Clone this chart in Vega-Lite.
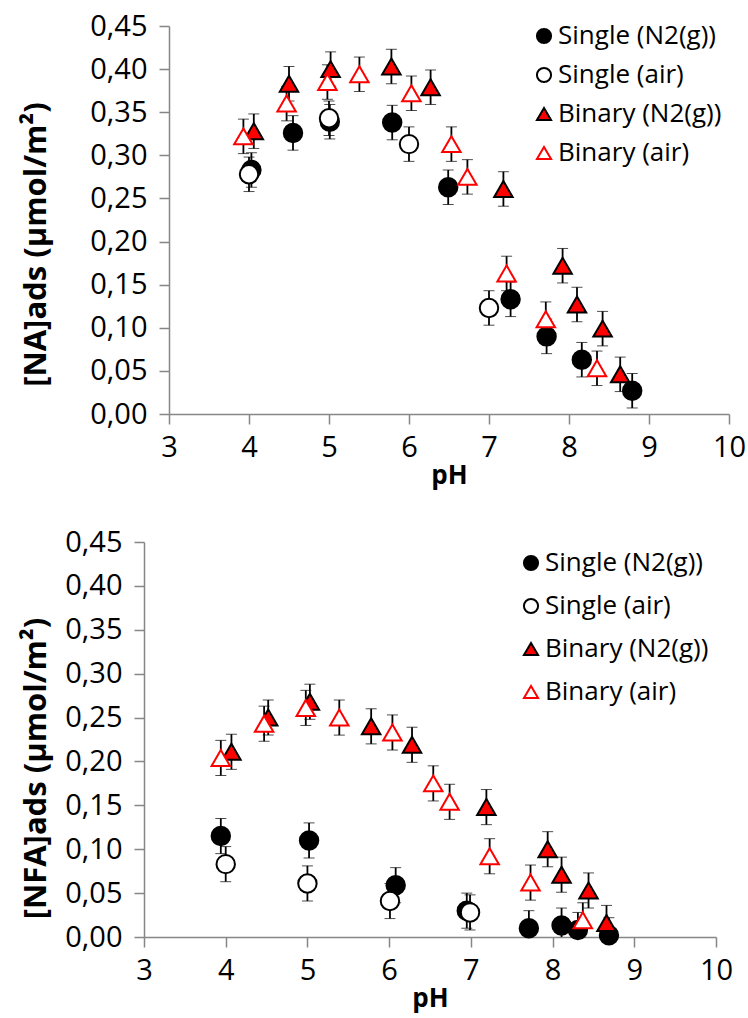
{
  "$schema": "https://vega.github.io/schema/vega-lite/v6.json",
  "padding": {"left": 18, "top": 12, "right": 0, "bottom": 8},
  "spacing": 40,
  "datasets": {
    "NA": [
      {"pH": 4.03, "value": 0.283, "err": 0.02, "series": "Single (N2(g))"},
      {"pH": 4.55, "value": 0.326, "err": 0.02, "series": "Single (N2(g))"},
      {"pH": 5.01, "value": 0.339, "err": 0.02, "series": "Single (N2(g))"},
      {"pH": 5.79, "value": 0.338, "err": 0.02, "series": "Single (N2(g))"},
      {"pH": 6.49, "value": 0.263, "err": 0.02, "series": "Single (N2(g))"},
      {"pH": 7.27, "value": 0.133, "err": 0.02, "series": "Single (N2(g))"},
      {"pH": 7.72, "value": 0.090, "err": 0.02, "series": "Single (N2(g))"},
      {"pH": 8.16, "value": 0.063, "err": 0.02, "series": "Single (N2(g))"},
      {"pH": 8.79, "value": 0.027, "err": 0.02, "series": "Single (N2(g))"},
      {"pH": 4.00, "value": 0.278, "err": 0.02, "series": "Single (air)"},
      {"pH": 5.00, "value": 0.343, "err": 0.02, "series": "Single (air)"},
      {"pH": 6.00, "value": 0.313, "err": 0.02, "series": "Single (air)"},
      {"pH": 7.00, "value": 0.123, "err": 0.02, "series": "Single (air)"},
      {"pH": 4.06, "value": 0.328, "err": 0.02, "series": "Binary (N2(g))"},
      {"pH": 4.50, "value": 0.383, "err": 0.02, "series": "Binary (N2(g))"},
      {"pH": 5.02, "value": 0.400, "err": 0.02, "series": "Binary (N2(g))"},
      {"pH": 5.78, "value": 0.403, "err": 0.02, "series": "Binary (N2(g))"},
      {"pH": 6.27, "value": 0.379, "err": 0.02, "series": "Binary (N2(g))"},
      {"pH": 7.18, "value": 0.261, "err": 0.02, "series": "Binary (N2(g))"},
      {"pH": 7.92, "value": 0.172, "err": 0.02, "series": "Binary (N2(g))"},
      {"pH": 8.10, "value": 0.127, "err": 0.02, "series": "Binary (N2(g))"},
      {"pH": 8.42, "value": 0.099, "err": 0.02, "series": "Binary (N2(g))"},
      {"pH": 8.64, "value": 0.046, "err": 0.02, "series": "Binary (N2(g))"},
      {"pH": 3.93, "value": 0.322, "err": 0.02, "series": "Binary (air)"},
      {"pH": 4.47, "value": 0.360, "err": 0.02, "series": "Binary (air)"},
      {"pH": 4.98, "value": 0.385, "err": 0.02, "series": "Binary (air)"},
      {"pH": 5.38, "value": 0.394, "err": 0.02, "series": "Binary (air)"},
      {"pH": 6.03, "value": 0.372, "err": 0.02, "series": "Binary (air)"},
      {"pH": 6.53, "value": 0.313, "err": 0.02, "series": "Binary (air)"},
      {"pH": 6.73, "value": 0.275, "err": 0.02, "series": "Binary (air)"},
      {"pH": 7.22, "value": 0.163, "err": 0.02, "series": "Binary (air)"},
      {"pH": 7.71, "value": 0.110, "err": 0.02, "series": "Binary (air)"},
      {"pH": 8.35, "value": 0.053, "err": 0.02, "series": "Binary (air)"}
    ],
    "NFA": [
      {"pH": 3.94, "value": 0.115, "err": 0.02, "series": "Single (N2(g))"},
      {"pH": 5.02, "value": 0.110, "err": 0.02, "series": "Single (N2(g))"},
      {"pH": 6.08, "value": 0.059, "err": 0.02, "series": "Single (N2(g))"},
      {"pH": 6.95, "value": 0.030, "err": 0.02, "series": "Single (N2(g))"},
      {"pH": 7.71, "value": 0.010, "err": 0.02, "series": "Single (N2(g))"},
      {"pH": 8.11, "value": 0.013, "err": 0.02, "series": "Single (N2(g))"},
      {"pH": 8.31, "value": 0.008, "err": 0.02, "series": "Single (N2(g))"},
      {"pH": 8.69, "value": 0.002, "err": 0.02, "series": "Single (N2(g))"},
      {"pH": 4.00, "value": 0.083, "err": 0.02, "series": "Single (air)"},
      {"pH": 5.00, "value": 0.061, "err": 0.02, "series": "Single (air)"},
      {"pH": 6.01, "value": 0.041, "err": 0.02, "series": "Single (air)"},
      {"pH": 6.99, "value": 0.028, "err": 0.02, "series": "Single (air)"},
      {"pH": 4.07, "value": 0.211, "err": 0.02, "series": "Binary (N2(g))"},
      {"pH": 4.52, "value": 0.250, "err": 0.02, "series": "Binary (N2(g))"},
      {"pH": 5.03, "value": 0.268, "err": 0.02, "series": "Binary (N2(g))"},
      {"pH": 5.78, "value": 0.240, "err": 0.02, "series": "Binary (N2(g))"},
      {"pH": 6.28, "value": 0.219, "err": 0.02, "series": "Binary (N2(g))"},
      {"pH": 7.19, "value": 0.148, "err": 0.02, "series": "Binary (N2(g))"},
      {"pH": 7.94, "value": 0.100, "err": 0.02, "series": "Binary (N2(g))"},
      {"pH": 8.11, "value": 0.071, "err": 0.02, "series": "Binary (N2(g))"},
      {"pH": 8.44, "value": 0.053, "err": 0.02, "series": "Binary (N2(g))"},
      {"pH": 8.66, "value": 0.016, "err": 0.02, "series": "Binary (N2(g))"},
      {"pH": 3.94, "value": 0.204, "err": 0.02, "series": "Binary (air)"},
      {"pH": 4.47, "value": 0.243, "err": 0.02, "series": "Binary (air)"},
      {"pH": 4.98, "value": 0.261, "err": 0.02, "series": "Binary (air)"},
      {"pH": 5.39, "value": 0.250, "err": 0.02, "series": "Binary (air)"},
      {"pH": 6.04, "value": 0.233, "err": 0.02, "series": "Binary (air)"},
      {"pH": 6.54, "value": 0.175, "err": 0.02, "series": "Binary (air)"},
      {"pH": 6.74, "value": 0.154, "err": 0.02, "series": "Binary (air)"},
      {"pH": 7.23, "value": 0.092, "err": 0.02, "series": "Binary (air)"},
      {"pH": 7.73, "value": 0.062, "err": 0.02, "series": "Binary (air)"},
      {"pH": 8.37, "value": 0.019, "err": 0.02, "series": "Binary (air)"}
    ]
  },
  "config": {
    "font": "Open Sans",
    "view": {"stroke": null},
    "axis": {
      "grid": false,
      "domainColor": "#868686",
      "tickColor": "#868686",
      "domainWidth": 1.5,
      "tickWidth": 1.5,
      "tickSize": 10,
      "labelColor": "black",
      "labelFont": "Open Sans",
      "labelFontSize": 29,
      "labelFlush": false,
      "titleFont": "Open Sans",
      "titleFontWeight": "bold",
      "titleColor": "black"
    },
    "legend": {
      "title": null,
      "labelFont": "Open Sans",
      "labelFontSize": 26,
      "labelColor": "black",
      "labelLimit": 0,
      "symbolSize": 200,
      "symbolStrokeWidth": 2,
      "padding": 0,
      "labelOffset": 1
    }
  },
  "vconcat": [
    {
      "spacing": 0,
      "hconcat": [
        {"width": 1, "height": 1, "data": {"values": []}, "mark": "point"},
        {
          "width": 560,
          "height": 388,
          "data": {"name": "NA"},
          "encoding": {
            "x": {"field": "pH", "type": "quantitative", "scale": {"domain": [3, 10], "nice": false},
              "axis": {"values": [3, 4, 5, 6, 7, 8, 9, 10], "format": "d", "labelPadding": 9, "title": "pH", "titleFontSize": 26, "titlePadding": 0}},
            "y": {"field": "value", "type": "quantitative", "scale": {"domain": [0, 0.45], "nice": false},
              "axis": {"values": [0, 0.05, 0.1, 0.15, 0.2, 0.25, 0.3, 0.35, 0.4, 0.45], "labelExpr": "replace(format(datum.value, '.2f'), '.', ',')", "labelPadding": 12, "title": "[NA]ads (µmol/m²)", "titleFontSize": 31, "titleX": -117, "titleY": 218}}
          },
          "layer": [
            {
              "mark": {"type": "errorbar", "ticks": {"size": 11, "color": "black", "strokeWidth": 1.8}, "rule": {"color": "black", "strokeWidth": 1.8}, "clip": true},
              "encoding": {"yError": {"field": "err"}}
            },
            {
              "mark": {"type": "point", "filled": true, "opacity": 1, "strokeWidth": 2, "size": 340},
              "encoding": {
                "shape": {"field": "series", "type": "nominal", "scale": {"domain": ["Single (N2(g))", "Single (air)", "Binary (N2(g))", "Binary (air)"], "range": ["circle", "circle", "triangle-up", "triangle-up"]},
                  "legend": {"orient": "none", "legendX": 513, "legendY": -3, "rowPadding": 13}},
                "fill": {"field": "series", "type": "nominal", "scale": {"domain": ["Single (N2(g))", "Single (air)", "Binary (N2(g))", "Binary (air)"], "range": ["black", "white", "red", "white"]},
                  "legend": {"orient": "none", "legendX": 513, "legendY": -3, "rowPadding": 13}},
                "stroke": {"field": "series", "type": "nominal", "scale": {"domain": ["Single (N2(g))", "Single (air)", "Binary (N2(g))", "Binary (air)"], "range": ["black", "black", "black", "red"]},
                  "legend": {"orient": "none", "legendX": 513, "legendY": -3, "rowPadding": 13}}
              }
            }
          ]
        }
      ]
    },
    {
      "spacing": 0,
      "hconcat": [
        {"width": 1, "height": 1, "data": {"values": []}, "mark": "point"},
        {
          "width": 572,
          "height": 395,
          "data": {"name": "NFA"},
          "encoding": {
            "x": {"field": "pH", "type": "quantitative", "scale": {"domain": [3, 10], "nice": false},
              "axis": {"values": [3, 4, 5, 6, 7, 8, 9, 10], "format": "d", "labelPadding": 9, "title": "pH", "titleFontSize": 26, "titlePadding": 0}},
            "y": {"field": "value", "type": "quantitative", "scale": {"domain": [0, 0.45], "nice": false},
              "axis": {"values": [0, 0.05, 0.1, 0.15, 0.2, 0.25, 0.3, 0.35, 0.4, 0.45], "labelExpr": "replace(format(datum.value, '.2f'), '.', ',')", "labelPadding": 12, "title": "[NFA]ads (µmol/m²)", "titleFontSize": 31, "titleX": -92, "titleY": 226}}
          },
          "layer": [
            {
              "mark": {"type": "errorbar", "ticks": {"size": 11, "color": "black", "strokeWidth": 1.8}, "rule": {"color": "black", "strokeWidth": 1.8}, "clip": true},
              "encoding": {"yError": {"field": "err"}}
            },
            {
              "mark": {"type": "point", "filled": true, "opacity": 1, "strokeWidth": 2, "size": 340},
              "encoding": {
                "shape": {"field": "series", "type": "nominal", "scale": {"domain": ["Single (N2(g))", "Single (air)", "Binary (N2(g))", "Binary (air)"], "range": ["circle", "circle", "triangle-up", "triangle-up"]},
                  "legend": {"orient": "none", "legendX": 500, "legendY": 8, "rowPadding": 17}},
                "fill": {"field": "series", "type": "nominal", "scale": {"domain": ["Single (N2(g))", "Single (air)", "Binary (N2(g))", "Binary (air)"], "range": ["black", "white", "red", "white"]},
                  "legend": {"orient": "none", "legendX": 500, "legendY": 8, "rowPadding": 17}},
                "stroke": {"field": "series", "type": "nominal", "scale": {"domain": ["Single (N2(g))", "Single (air)", "Binary (N2(g))", "Binary (air)"], "range": ["black", "black", "black", "red"]},
                  "legend": {"orient": "none", "legendX": 500, "legendY": 8, "rowPadding": 17}}
              }
            }
          ]
        }
      ]
    }
  ],
  "resolve": {"scale": {"shape": "independent", "fill": "independent", "stroke": "independent"}, "legend": {"shape": "independent", "fill": "independent", "stroke": "independent"}}
}
